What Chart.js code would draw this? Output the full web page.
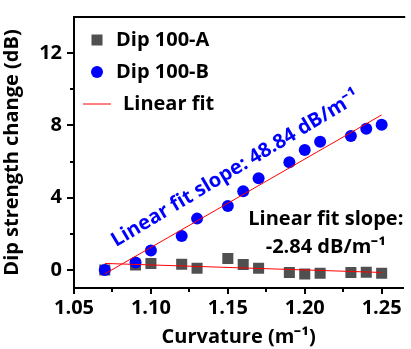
<!DOCTYPE html>
<html>
<head>
<meta charset="utf-8">
<script src="https://cdn.jsdelivr.net/npm/chart.js@4/dist/chart.umd.min.js"></script>
<style>
html, body { margin: 0; padding: 0; background: #fff; overflow: hidden; }
#wrap { width: 411px; height: 349px; position: relative; }
</style>
</head>
<body>
<div id="wrap"><canvas id="curvChart"></canvas></div>
<script>
// values
const curvature = [1.07, 1.09, 1.10, 1.12, 1.13, 1.15, 1.16, 1.17, 1.19, 1.20, 1.21, 1.23, 1.24, 1.25];
const dipA = [0, 0.27, 0.36, 0.32, 0.09, 0.63, 0.30, 0.09, -0.14, -0.22, -0.18, -0.14, -0.13, -0.18];
const dipB = [0, 0.41, 1.08, 1.88, 2.84, 3.54, 4.36, 5.08, 5.96, 6.64, 7.09, 7.41, 7.81, 8.04];
const fitX = [1.07, 1.25];
const fitA = [0.36, -0.14];
const fitB = [-0.22, 8.58];
const xTicks = [1.05, 1.10, 1.15, 1.20, 1.25];
const xMinor = [1.075, 1.125, 1.175, 1.225];
const yTicks = [0, 4, 8, 12];
const yMinor = [2, 6, 10];

const GRAY = '#505050';
const BLUE = '#0000ff';
const RED = '#ff0000';
const FONT = '"Open Sans"';

const pts = (xs, ys) => xs.map((x, i) => ({ x: x, y: ys[i] }));

Chart.defaults.font.family = FONT;
Chart.defaults.font.weight = 'bold';
Chart.defaults.color = '#000';

// frame, minor ticks, legend and slope notes
const extras = {
    id: 'extras',
    afterDraw(chart) {
        const ctx = chart.ctx;
        const a = chart.chartArea;
        const xs = chart.scales.x;
        const ys = chart.scales.y;
        ctx.save();
        ctx.strokeStyle = '#000';
        ctx.lineWidth = 2;
        ctx.beginPath();
        ctx.moveTo(a.left - 1, a.top);
        ctx.lineTo(a.right + 2, a.top);
        ctx.stroke();
        ctx.beginPath();
        xMinor.forEach(v => {
            const px = Math.round(xs.getPixelForValue(v));
            ctx.moveTo(px, a.bottom);
            ctx.lineTo(px, a.bottom + 4);
        });
        yMinor.forEach(v => {
            const py = Math.round(ys.getPixelForValue(v));
            ctx.moveTo(a.left, py);
            ctx.lineTo(a.left - 4, py);
        });
        ctx.stroke();

        // legend
        ctx.font = 'bold 20px ' + FONT;
        ctx.textBaseline = 'middle';
        ctx.textAlign = 'left';
        const lx = a.left + 23;
        ctx.fillStyle = GRAY;
        ctx.fillRect(lx - 5.5, a.top + 23 - 5.5, 11, 11);
        ctx.fillStyle = '#000';
        ctx.fillText('Dip 100-A', lx + 19, a.top + 23);
        ctx.fillStyle = BLUE;
        ctx.beginPath();
        ctx.arc(lx, a.top + 55, 6, 0, Math.PI * 2);
        ctx.fill();
        ctx.fillStyle = '#000';
        ctx.fillText('Dip 100-B', lx + 19, a.top + 55);
        ctx.strokeStyle = RED;
        ctx.lineWidth = 1;
        ctx.beginPath();
        ctx.moveTo(lx - 14, a.top + 87);
        ctx.lineTo(lx + 14, a.top + 87);
        ctx.stroke();
        ctx.fillText('Linear fit', lx + 26, a.top + 87);

        // slope annotations
        ctx.textAlign = 'center';
        ctx.fillText('Linear fit slope:', xs.getPixelForValue(1.2137), ys.getPixelForValue(2.8));
        ctx.fillText('-2.84 dB/m\u207B\u00B9', xs.getPixelForValue(1.2137), ys.getPixelForValue(1.24));
        ctx.translate(xs.getPixelForValue(1.155), ys.getPixelForValue(5.6));
        ctx.rotate(-31 * Math.PI / 180);
        ctx.fillStyle = BLUE;
        ctx.fillText('Linear fit slope: 48.84 dB/m\u207B\u00B9', 0, 0);
        ctx.restore();
    }
};

const curvChart = new Chart(document.querySelector('#curvChart'), {
    type: 'scatter',
    data: {
        datasets: [
            {
                type: 'line',
                label: 'Linear fit',
                data: pts(fitX, fitB),
                borderColor: RED,
                borderWidth: 1,
                pointRadius: 0,
                order: 0,
            },
            {
                type: 'line',
                label: 'Linear fit A',
                data: pts(fitX, fitA),
                borderColor: RED,
                borderWidth: 1,
                pointRadius: 0,
                order: 0,
            },
            {
                label: 'Dip 100-B',
                data: pts(curvature, dipB),
                pointStyle: 'circle',
                pointRadius: 6,
                backgroundColor: BLUE,
                borderWidth: 0,
                order: 1,
            },
            {
                label: 'Dip 100-A',
                data: pts(curvature, dipA),
                pointStyle: 'rect',
                pointRadius: 7.8,
                backgroundColor: GRAY,
                borderWidth: 0,
                order: 2,
            },
        ],
    },
    options: {
        responsive: true,
        maintainAspectRatio: false,
        animation: false,
        events: [],
        layout: { padding: { top: 10, right: 0, left: 0, bottom: 0 } },
        plugins: {
            legend: { display: false },
            tooltip: { enabled: false },
        },
        scales: {
            x: {
                type: 'linear',
                min: 1.05,
                max: 1.264,
                afterBuildTicks: s => { s.ticks = xTicks.map(v => ({ value: v })); },
                afterFit: s => { s.height = 61; },
                ticks: {
                    font: { size: 20, weight: 'bold' },
                    color: '#000',
                    padding: 2,
                    maxRotation: 0,
                    callback: v => v.toFixed(2),
                },
                grid: {
                    drawOnChartArea: false,
                    tickLength: 6,
                    lineWidth: 2,
                    color: '#000',
                },
                border: { color: '#000', width: 2 },
                title: {
                    display: true,
                    text: 'Curvature (m\u207B\u00B9)',
                    font: { size: 20, weight: 'bold' },
                    color: '#000',
                    padding: { top: -2, bottom: 0 },
                },
            },
            y: {
                type: 'linear',
                min: -1,
                max: 14,
                afterBuildTicks: s => { s.ticks = yTicks.map(v => ({ value: v })); },
                afterFit: s => { s.width = 74; },
                ticks: {
                    font: { size: 20, weight: 'bold' },
                    color: '#000',
                    padding: 5,
                },
                grid: {
                    drawOnChartArea: false,
                    tickLength: 7,
                    lineWidth: 2,
                    color: '#000',
                },
                border: { color: '#000', width: 2 },
                title: {
                    display: true,
                    text: 'Dip strength change (dB)',
                    font: { size: 20, weight: 'bold' },
                    color: '#000',
                    padding: { top: 0, bottom: 0 },
                },
            },
        },
    },
    plugins: [extras],
});
</script>
</body>
</html>
